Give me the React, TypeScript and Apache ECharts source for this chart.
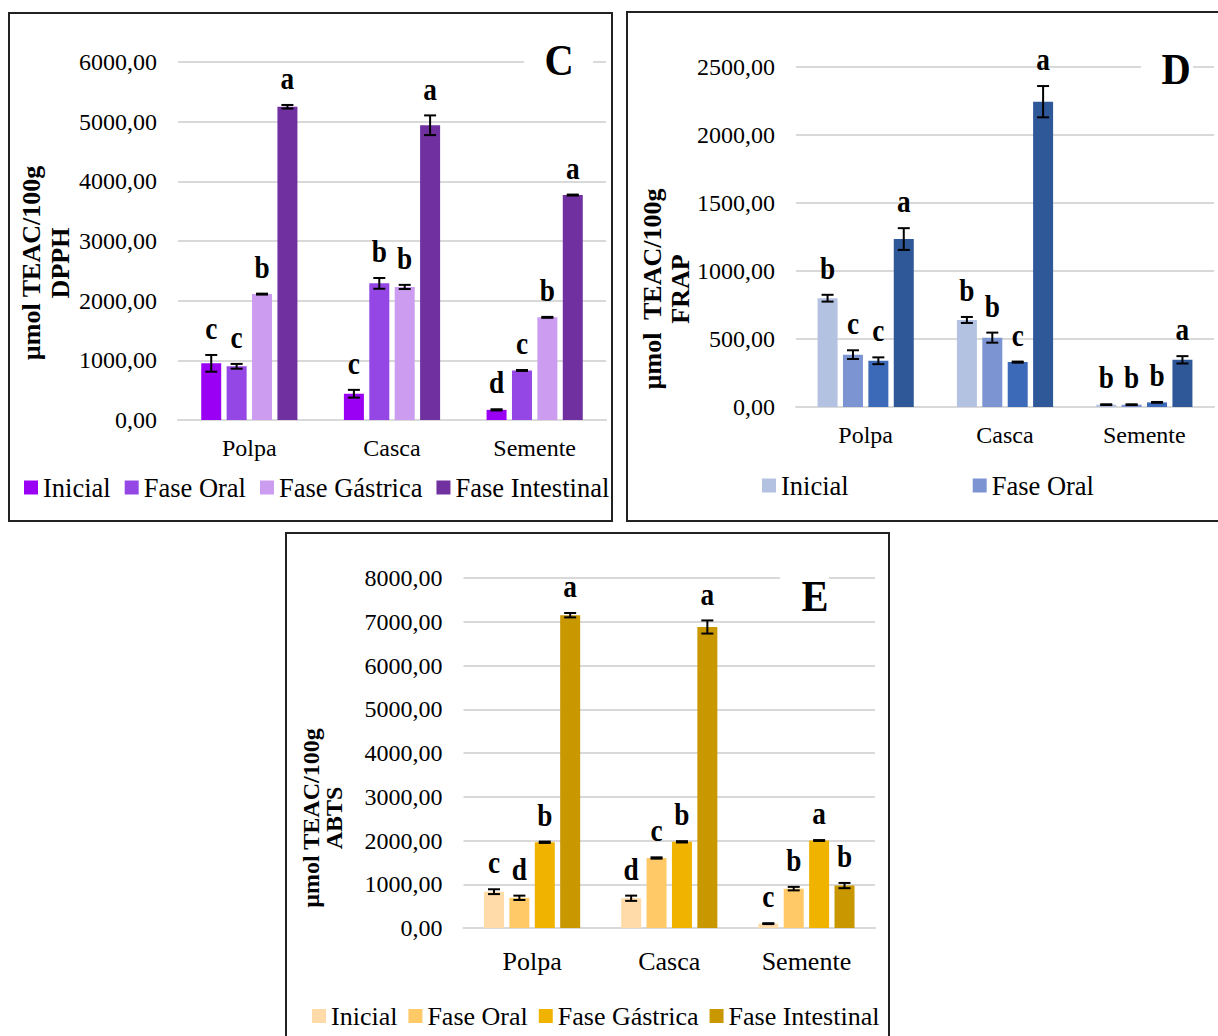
import React, { useEffect, useRef } from "react";
import * as echarts from "echarts";

const categories = ["Polpa", "Casca", "Semente"];
const seriesNames = ["Inicial", "Fase Oral", "Fase Gástrica", "Fase Intestinal"];

// Panel C - DPPH
const dpphInicial = [950, 440, 170];
const dpphOral = [900, 2290, 830];
const dpphGastrica = [2110, 2230, 1720];
const dpphIntestinal = [5250, 4940, 3770];
const dpphErrInicial = [140, 65, 10];
const dpphErrOral = [40, 90, 8];
const dpphErrGastrica = [8, 35, 8];
const dpphErrIntestinal = [30, 165, 8];
const dpphLetInicial = ["c", "c", "d"];
const dpphLetOral = ["c", "b", "c"];
const dpphLetGastrica = ["b", "b", "b"];
const dpphLetIntestinal = ["a", "a", "a"];
const dpphMax = 6000;
const dpphStep = 1000;

// Panel D - FRAP
const frapInicial = [800, 640, 17];
const frapOral = [385, 510, 17];
const frapGastrica = [340, 330, 34];
const frapIntestinal = [1235, 2245, 347];
const frapErrInicial = [25, 22, 3];
const frapErrOral = [32, 37, 3];
const frapErrGastrica = [25, 4, 3];
const frapErrIntestinal = [80, 115, 27];
const frapLetInicial = ["b", "b", "b"];
const frapLetOral = ["c", "b", "b"];
const frapLetGastrica = ["c", "c", "b"];
const frapLetIntestinal = ["a", "a", "a"];
const frapMax = 2500;
const frapStep = 500;
const frapLegendItems = ["Inicial", "Fase Oral"];

// Panel E - ABTS
const abtsInicial = [830, 680, 100];
const abtsOral = [690, 1600, 900];
const abtsGastrica = [1960, 1970, 2000];
const abtsIntestinal = [7150, 6880, 970];
const abtsErrInicial = [55, 60, 10];
const abtsErrOral = [50, 15, 40];
const abtsErrGastrica = [15, 15, 10];
const abtsErrIntestinal = [50, 150, 60];
const abtsLetInicial = ["c", "d", "c"];
const abtsLetOral = ["d", "c", "b"];
const abtsLetGastrica = ["b", "b", "a"];
const abtsLetIntestinal = ["a", "a", "b"];
const abtsMax = 8000;
const abtsStep = 1000;

const FONT = '"Liberation Serif", "Times New Roman", serif';

type PanelCfg = {
  box: { left: number; top: number; width: number; height: number };
  border: { left: boolean; top: boolean; right: boolean; bottom: boolean };
  grid: { left: number; right: number; top: number; bottom: number };
  values: number[][];
  errs: number[][];
  letters: string[][];
  colors: string[];
  max: number;
  interval: number;
  legendData: string[];
  legendLeft: number;
  legendTop: number;
  legendGap: number;
  legendFont: number;
  catFont: number;
  catMargin: number;
  yName: string[];
  yNameX: number;
  yNameY: number;
  yNameFont: number;
  yNameLH: number;
  tag: string;
  tagX: number;
  tagY: number;
  gapRect: { x: number; y: number; w: number; h: number };
};

function buildOption(cfg: PanelCfg) {
  const barW = 20;
  const step = 25.4;
  const bars = seriesNames.map((name, s) => ({
    type: "bar",
    name,
    data: cfg.values[s],
    barWidth: barW,
    barGap: "27%",
    itemStyle: { color: cfg.colors[s] },
    z: 2,
  }));
  const items: number[][] = [];
  for (let s = 0; s < 4; s++) {
    for (let i = 0; i < 3; i++) {
      items.push([i, cfg.values[s][i], cfg.errs[s][i], s]);
    }
  }
  const errSeries = {
    type: "custom",
    name: "err",
    data: items,
    z: 10,
    silent: true,
    renderItem: (params: any, api: any) => {
      const i = api.value(0);
      const v = api.value(1);
      const e = api.value(2);
      const s = api.value(3);
      const c = api.coord([i, v]);
      const hi = api.coord([i, v + e]);
      const lo = api.coord([i, Math.max(0, v - e)]);
      const x = c[0] + (s - 1.5) * step;
      const st = { stroke: "#000", lineWidth: 2 };
      return {
        type: "group",
        children: [
          { type: "line", shape: { x1: x, y1: hi[1], x2: x, y2: lo[1] }, style: st },
          { type: "line", shape: { x1: x - 6, y1: hi[1], x2: x + 6, y2: hi[1] }, style: st },
          { type: "line", shape: { x1: x - 6, y1: lo[1], x2: x + 6, y2: lo[1] }, style: st },
          {
            type: "text",
            x: x,
            y: hi[1] - 11,
            scaleX: 0.88,
            style: {
              text: cfg.letters[s][i],
              font: `bold 31px ${FONT}`,
              fill: "#000",
              textAlign: "center",
              textVerticalAlign: "bottom",
            },
          },
        ],
      };
    },
  };
  return {
    animation: false,
    grid: { ...cfg.grid, containLabel: false },
    legend: {
      data: cfg.legendData,
      left: cfg.legendLeft,
      top: cfg.legendTop,
      padding: 0,
      itemGap: cfg.legendGap,
      itemWidth: 14,
      itemHeight: 14,
      icon: "rect",
      selectedMode: false,
      textStyle: { fontFamily: FONT, fontSize: cfg.legendFont, color: "#000" },
    },
    xAxis: {
      type: "category",
      data: categories,
      axisLine: { lineStyle: { color: "#d9d9d9", width: 2 } },
      axisTick: { show: false },
      axisLabel: { fontFamily: FONT, fontSize: cfg.catFont, color: "#000", margin: cfg.catMargin },
    },
    yAxis: {
      type: "value",
      min: 0,
      max: cfg.max,
      interval: cfg.interval,
      axisLine: { show: false },
      axisTick: { show: false },
      splitLine: { lineStyle: { color: "#d9d9d9", width: 2 } },
      axisLabel: {
        fontFamily: FONT,
        fontSize: 24,
        color: "#000",
        margin: 21,
        formatter: (v: number) => v.toFixed(2).replace(".", ","),
      },
    },
    graphic: [
      {
        type: "rect",
        z: 50,
        shape: { x: cfg.gapRect.x, y: cfg.gapRect.y, width: cfg.gapRect.w, height: cfg.gapRect.h },
        style: { fill: "#fff" },
      },
      {
        type: "text",
        z: 51,
        x: cfg.tagX,
        y: cfg.tagY,
        scaleX: 0.9,
        style: {
          text: cfg.tag,
          font: `bold 45px ${FONT}`,
          fill: "#000",
          textAlign: "center",
          textVerticalAlign: "middle",
        },
      },
      {
        type: "text",
        z: 51,
        x: cfg.yNameX,
        y: cfg.yNameY,
        rotation: Math.PI / 2,
        style: {
          text: cfg.yName.join("\n"),
          font: `bold ${cfg.yNameFont}px ${FONT}`,
          lineHeight: cfg.yNameLH,
          fill: "#000",
          textAlign: "center",
          textVerticalAlign: "middle",
        },
      },
    ],
    series: [...bars, errSeries],
  };
}

const panelC: PanelCfg = {
  box: { left: 8, top: 12, width: 605, height: 510 },
  border: { left: true, top: true, right: true, bottom: true },
  grid: { left: 170, right: 7, top: 50, bottom: 102 },
  values: [dpphInicial, dpphOral, dpphGastrica, dpphIntestinal],
  errs: [dpphErrInicial, dpphErrOral, dpphErrGastrica, dpphErrIntestinal],
  letters: [dpphLetInicial, dpphLetOral, dpphLetGastrica, dpphLetIntestinal],
  colors: ["#9a00f4", "#9447e5", "#cc9cf0", "#7030a0"],
  max: dpphMax,
  interval: dpphStep,
  legendData: seriesNames,
  legendLeft: 16,
  legendTop: 462,
  legendGap: 14,
  legendFont: 26.5,
  catFont: 24,
  catMargin: 16,
  yName: ["µmol TEAC/100g", "DPPH"],
  yNameX: 38,
  yNameY: 251,
  yNameFont: 26,
  yNameLH: 29,
  tag: "C",
  tagX: 551,
  tagY: 48,
  gapRect: { x: 516, y: 44, w: 69, h: 12 },
};

const panelD: PanelCfg = {
  box: { left: 626, top: 11, width: 592, height: 511 },
  border: { left: true, top: true, right: false, bottom: true },
  grid: { left: 170, right: 4, top: 56, bottom: 115 },
  values: [frapInicial, frapOral, frapGastrica, frapIntestinal],
  errs: [frapErrInicial, frapErrOral, frapErrGastrica, frapErrIntestinal],
  letters: [frapLetInicial, frapLetOral, frapLetGastrica, frapLetIntestinal],
  colors: ["#b4c2e2", "#7c95d2", "#3c6ab9", "#2f5899"],
  max: frapMax,
  interval: frapStep,
  legendData: frapLegendItems,
  legendLeft: 136,
  legendTop: 461,
  legendGap: 124,
  legendFont: 26.5,
  catFont: 24,
  catMargin: 16,
  yName: ["µmol  TEAC/100g", "FRAP"],
  yNameX: 40,
  yNameY: 278,
  yNameFont: 26,
  yNameLH: 28,
  tag: "D",
  tagX: 550,
  tagY: 58,
  gapRect: { x: 515, y: 50, w: 52, h: 12 },
};

const panelE: PanelCfg = {
  box: { left: 285, top: 532, width: 605, height: 504 },
  border: { left: true, top: true, right: true, bottom: false },
  grid: { left: 178.5, right: 15, top: 46, bottom: 108 },
  values: [abtsInicial, abtsOral, abtsGastrica, abtsIntestinal],
  errs: [abtsErrInicial, abtsErrOral, abtsErrGastrica, abtsErrIntestinal],
  letters: [abtsLetInicial, abtsLetOral, abtsLetGastrica, abtsLetIntestinal],
  colors: ["#ffdbaa", "#ffc968", "#f0b400", "#c99700"],
  max: abtsMax,
  interval: abtsStep,
  legendData: seriesNames,
  legendLeft: 27,
  legendTop: 471,
  legendGap: 11,
  legendFont: 26,
  catFont: 26,
  catMargin: 20,
  yName: ["µmol TEAC/100g", "ABTS"],
  yNameX: 37.5,
  yNameY: 286,
  yNameFont: 24,
  yNameLH: 23,
  tag: "E",
  tagX: 530,
  tagY: 64,
  gapRect: { x: 495, y: 40, w: 49, h: 12 },
};

function Panel({ cfg }: { cfg: PanelCfg }) {
  const ref = useRef<HTMLDivElement>(null);
  useEffect(() => {
    if (!ref.current) return;
    const chart = echarts.init(ref.current, undefined, { renderer: "svg" });
    chart.setOption(buildOption(cfg) as any);
    return () => chart.dispose();
  }, [cfg]);
  const b = cfg.box;
  const bw = "2px solid #222";
  return (
    <>
      <div
        ref={ref}
        style={{ position: "absolute", left: b.left, top: b.top, width: b.width, height: b.height }}
      />
      <div
        style={{
          position: "absolute",
          left: b.left,
          top: b.top,
          width: b.width,
          height: b.height,
          boxSizing: "border-box",
          borderLeft: cfg.border.left ? bw : "none",
          borderTop: cfg.border.top ? bw : "none",
          borderRight: cfg.border.right ? bw : "none",
          borderBottom: cfg.border.bottom ? bw : "none",
          pointerEvents: "none",
        }}
      />
    </>
  );
}

export default function App() {
  return (
    <div
      style={{
        position: "absolute",
        left: 0,
        top: 0,
        width: 1218,
        height: 1036,
        overflow: "hidden",
        background: "#fff",
      }}
    >
      <Panel cfg={panelC} />
      <Panel cfg={panelD} />
      <Panel cfg={panelE} />
    </div>
  );
}
